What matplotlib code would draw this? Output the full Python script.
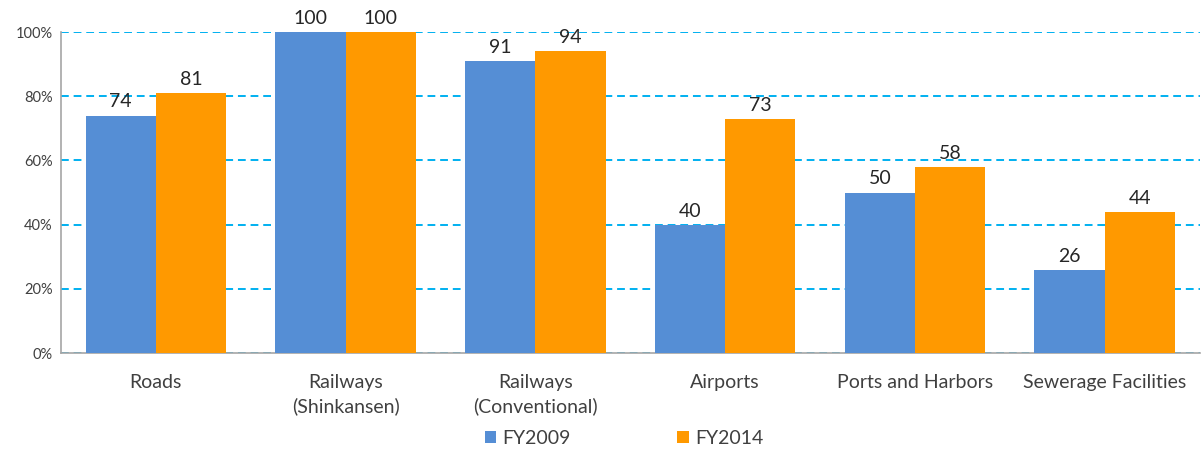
import numpy as np
import matplotlib
matplotlib.use("Agg")
import matplotlib.pyplot as plt
from matplotlib.ticker import FuncFormatter

categories = ["Roads", "Railways\n(Shinkansen)", "Railways\n(Conventional)",
              "Airports", "Ports and Harbors", "Sewerage Facilities"]
fy2009 = [74, 100, 91, 40, 50, 26]
fy2014 = [81, 100, 94, 73, 58, 44]
yticks = [0, 20, 40, 60, 80, 100]

plt.rcParams["font.family"] = ["Lato", "DejaVu Sans"]

fig = plt.figure(figsize=(12.02, 4.51), dpi=100)
ax = fig.add_axes([0.0507, 0.217, 0.9473, 0.712])

x = np.arange(len(categories))
w = 0.37
b1 = ax.bar(x - w / 2, fy2009, w, color="#558ED5", label="FY2009", zorder=3)
b2 = ax.bar(x + w / 2, fy2014, w, color="#FF9900", label="FY2014", zorder=3)

for bars, vals in ((b1, fy2009), (b2, fy2014)):
    for r, v in zip(bars, vals):
        ax.text(r.get_x() + r.get_width() / 2, v + 1.6, f"{v}", ha="center",
                va="bottom", fontsize=14, color="#262626", clip_on=False)

ax.set_xlim(-0.5, len(categories) - 0.5)
ax.set_ylim(0, 100)
ax.set_yticks(yticks)
ax.yaxis.set_major_formatter(FuncFormatter(lambda v, p: f"{int(v)}%"))
ax.grid(axis="y", color="#00B0F0", linestyle=(0, (4, 2.5)), linewidth=1.4, zorder=0)
ax.tick_params(axis="both", length=0, colors="#404040")
ax.tick_params(axis="y", labelsize=10.5, pad=6)
ax.tick_params(axis="x", labelsize=14, pad=15)
ax.set_xticks(x)
ax.set_xticklabels(categories, linespacing=1.45)
for s in ("top", "right"):
    ax.spines[s].set_visible(False)
for s in ("left", "bottom"):
    ax.spines[s].set_color("#A6A6A6")
    ax.spines[s].set_linewidth(1.2)

fig.legend(loc="lower center", bbox_to_anchor=(0.519, -0.03), ncol=2, frameon=False,
           fontsize=14, handlelength=0.6, handleheight=0.6, handletextpad=0.3,
           columnspacing=5.5, labelcolor="#404040")

fig.savefig("out.png", dpi=100)
